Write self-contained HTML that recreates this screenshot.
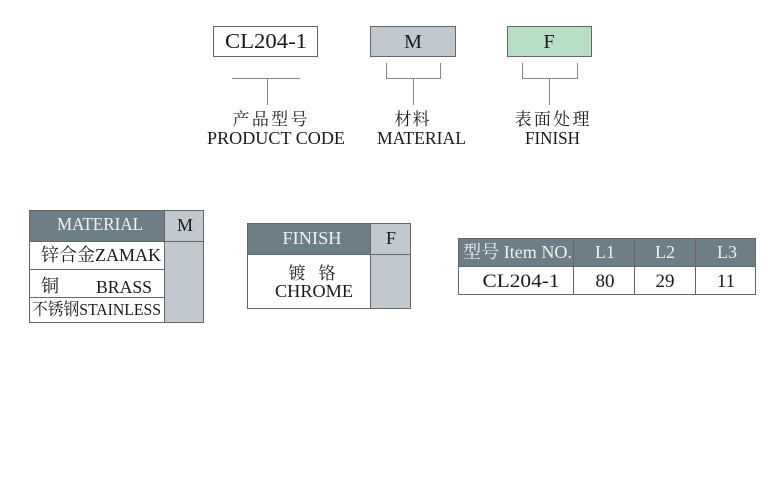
<!DOCTYPE html>
<html>
<head>
<meta charset="utf-8">
<style>
  html,body{margin:0;padding:0;background:#fff;}
  body{width:778px;height:500px;overflow:hidden;}
  svg{display:block;}
  text{font-family:"Liberation Serif","Noto Serif CJK SC",serif;}
</style>
</head>
<body>
<svg width="778" height="500" viewBox="0 0 778 500" xmlns="http://www.w3.org/2000/svg">
  <!-- Top code boxes -->
  <rect x="213.5" y="26.5" width="104" height="30" fill="#fff" stroke="#666" stroke-width="1"/>
  <rect x="370.5" y="26.5" width="85" height="30" fill="#c1c9cf" stroke="#666" stroke-width="1"/>
  <rect x="507.5" y="26.5" width="84" height="30" fill="#b6dfc6" stroke="#666" stroke-width="1"/>
  <text x="266" y="48" font-size="21" fill="#1a1a1a" text-anchor="middle" textLength="82" lengthAdjust="spacingAndGlyphs">CL204-1</text>
  <text x="413" y="48" font-size="20" fill="#1a1a1a" text-anchor="middle">M</text>
  <text x="549" y="48" font-size="20" fill="#1a1a1a" text-anchor="middle">F</text>

  <!-- connectors -->
  <g stroke="#888" stroke-width="1" fill="none">
    <line x1="232" y1="78.5" x2="300" y2="78.5"/>
    <line x1="267.5" y1="78.5" x2="267.5" y2="105"/>
    <polyline points="386.5,63 386.5,78.5 440.5,78.5 440.5,63"/>
    <line x1="413.5" y1="78.5" x2="413.5" y2="105"/>
    <polyline points="522.5,63 522.5,78.5 577.5,78.5 577.5,63"/>
    <line x1="549.5" y1="78.5" x2="549.5" y2="105"/>
  </g>

  <!-- labels -->
  <text x="270" y="125" font-size="17" fill="#1a1a1a" text-anchor="middle" textLength="75" lengthAdjust="spacing">产品型号</text>
  <text x="276" y="144" font-size="18" fill="#1a1a1a" text-anchor="middle" textLength="138" lengthAdjust="spacingAndGlyphs">PRODUCT CODE</text>
  <text x="412" y="125" font-size="17" fill="#1a1a1a" text-anchor="middle" textLength="35" lengthAdjust="spacing">材料</text>
  <text x="421.5" y="144" font-size="18" fill="#1a1a1a" text-anchor="middle" textLength="89" lengthAdjust="spacingAndGlyphs">MATERIAL</text>
  <text x="552" y="125" font-size="17" fill="#1a1a1a" text-anchor="middle" textLength="75" lengthAdjust="spacing">表面处理</text>
  <text x="552.5" y="144" font-size="18" fill="#1a1a1a" text-anchor="middle" textLength="55" lengthAdjust="spacingAndGlyphs">FINISH</text>

  <!-- MATERIAL table -->
  <rect x="29" y="210" width="135" height="31" fill="#6d7e87"/>
  <rect x="164" y="210" width="40" height="113" fill="#c1c9cf"/>
  <rect x="29" y="241" width="135" height="82" fill="#fff"/>
  <g stroke="#666" stroke-width="1" fill="none">
    <rect x="29.5" y="210.5" width="174" height="112"/>
    <line x1="164.5" y1="210" x2="164.5" y2="323"/>
    <line x1="29" y1="241.5" x2="204" y2="241.5"/>
    <line x1="29" y1="269.5" x2="164" y2="269.5"/>
    <line x1="29" y1="297.5" x2="164" y2="297.5"/>
  </g>
  <text x="100" y="230" font-size="18" fill="#eef2f4" text-anchor="middle" textLength="86" lengthAdjust="spacingAndGlyphs">MATERIAL</text>
  <text x="185" y="231" font-size="18" fill="#1a1a1a" text-anchor="middle">M</text>
  <text x="41" y="261" font-size="18" fill="#1a1a1a" textLength="120" lengthAdjust="spacingAndGlyphs">锌合金ZAMAK</text>
  <text x="41" y="292" font-size="18" fill="#1a1a1a">铜</text>
  <text x="96" y="293" font-size="18" fill="#1a1a1a" textLength="56" lengthAdjust="spacingAndGlyphs">BRASS</text>
  <text x="32" y="315" font-size="17" fill="#1a1a1a" textLength="129" lengthAdjust="spacingAndGlyphs">不锈钢STAINLESS</text>

  <!-- FINISH table -->
  <rect x="247" y="223" width="123" height="31" fill="#6d7e87"/>
  <rect x="370" y="223" width="41" height="86" fill="#c1c9cf"/>
  <rect x="247" y="254" width="123" height="55" fill="#fff"/>
  <g stroke="#666" stroke-width="1" fill="none">
    <rect x="247.5" y="223.5" width="163" height="85"/>
    <line x1="370.5" y1="223" x2="370.5" y2="309"/>
    <line x1="247" y1="254.5" x2="411" y2="254.5"/>
  </g>
  <text x="312" y="244" font-size="18" fill="#eef2f4" text-anchor="middle" textLength="59" lengthAdjust="spacingAndGlyphs">FINISH</text>
  <text x="391" y="244" font-size="18" fill="#1a1a1a" text-anchor="middle">F</text>
  <text x="312" y="279" font-size="17" fill="#1a1a1a" text-anchor="middle" textLength="47" lengthAdjust="spacing">镀 铬</text>
  <text x="314" y="297" font-size="18" fill="#1a1a1a" text-anchor="middle" textLength="78" lengthAdjust="spacingAndGlyphs">CHROME</text>

  <!-- Item table -->
  <rect x="458" y="238" width="298" height="28" fill="#6d7e87"/>
  <rect x="458" y="266" width="298" height="29" fill="#fff"/>
  <g stroke="#666" stroke-width="1" fill="none">
    <rect x="458.5" y="238.5" width="297" height="56"/>
    <line x1="458" y1="266.5" x2="756" y2="266.5"/>
    <line x1="573.5" y1="238" x2="573.5" y2="295"/>
    <line x1="634.5" y1="238" x2="634.5" y2="295"/>
    <line x1="695.5" y1="238" x2="695.5" y2="295"/>
  </g>
  <text x="463" y="258" font-size="18" fill="#eef2f4" textLength="109" lengthAdjust="spacingAndGlyphs">型号 Item NO.</text>
  <text x="605" y="258" font-size="18" fill="#eef2f4" text-anchor="middle">L1</text>
  <text x="665" y="258" font-size="18" fill="#eef2f4" text-anchor="middle">L2</text>
  <text x="727" y="258" font-size="18" fill="#eef2f4" text-anchor="middle">L3</text>
  <text x="521" y="287" font-size="19" fill="#1a1a1a" text-anchor="middle" textLength="77" lengthAdjust="spacingAndGlyphs">CL204-1</text>
  <text x="605" y="287" font-size="19" fill="#1a1a1a" text-anchor="middle">80</text>
  <text x="665" y="287" font-size="19" fill="#1a1a1a" text-anchor="middle">29</text>
  <text x="726" y="287" font-size="19" fill="#1a1a1a" text-anchor="middle">11</text>
</svg>
</body>
</html>
